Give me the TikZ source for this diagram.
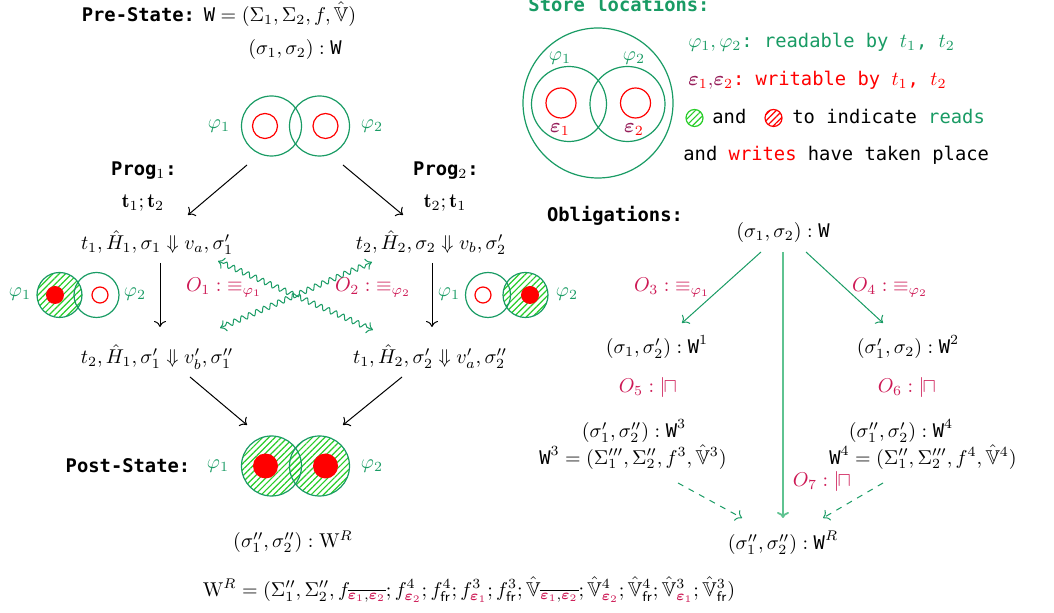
\documentclass[tikz,border=0pt]{standalone}
\usepackage{amsmath,amssymb}
\usepackage{fontspec}
\setmonofont{DejaVu Sans Mono}[Scale=0.94]
\usetikzlibrary{arrows.meta,decorations.pathmorphing,patterns.meta}
\definecolor{stgreen}{RGB}{25,155,100}
\definecolor{hatchgreen}{RGB}{40,205,40}
\definecolor{oblcol}{RGB}{205,25,85}
\definecolor{epscol}{RGB}{150,30,90}
\definecolor{vgreen}{RGB}{95,195,145}
\newcommand{\epsc}[1]{\textcolor{oblcol}{\boldsymbol{\varepsilon}_{#1}}}
\newcommand{\Vh}{\hat{\mathbb{V}}}
\newcommand{\tW}{\text{\ttfamily W}}
\newcommand{\sqop}{{|\mkern-1.5mu\sqcap}}
\newcommand{\epsl}[1]{\textcolor{epscol}{\boldsymbol{\varepsilon}}_{\textcolor{red}{#1}}}
\tikzset{
  txt/.style={inner sep=1pt},
  phi/.style={inner sep=1pt, text=stgreen},
  obl/.style={inner sep=1pt, text=oblcol},
  gc/.style={draw=stgreen, line width=0.6pt},
  rc/.style={draw=red, line width=0.6pt},
  rdot/.style={fill=red},
  hatch/.style={pattern={Lines[angle=45,distance=2.2pt,line width=0.6pt]}, pattern color=hatchgreen},
  arr/.style={-{To[length=3pt,width=6pt]}, line width=0.5pt},
  garr/.style={arr, draw=stgreen},
  dgarr/.style={garr, dash pattern=on 3pt off 3pt},
  vgarr/.style={-{To[length=3pt,width=6pt]}, draw=vgreen, line width=0.9pt},
  wavy/.style={{To[length=3pt,width=6pt]}-{To[length=3pt,width=6pt]}, draw=stgreen, line width=0.5pt,
    decorate, decoration={snake, amplitude=1.3pt, segment length=4pt, pre length=3pt, post length=3pt}},
}
\begin{document}
\begin{tikzpicture}[x=0.5pt,y=-0.5pt]
\useasboundingbox (0,0) rectangle (1054,613);

% ---------- left: pre-state ----------
\node[txt] (pre) at (219,14) {\texttt{\bfseries Pre-State:} $\tW = (\Sigma_1, \Sigma_2, f, \Vh)$};
\node[txt] (prew) at (295,50) {$(\sigma_1, \sigma_2) : \tW$};

\draw[gc] (271.5,126) circle[radius=15pt];
\draw[gc] (319.5,126) circle[radius=15pt];
\draw[rc] (265,126) circle[radius=6.25pt];
\draw[rc] (325.5,126) circle[radius=6.25pt];
\node[phi] (tp1) at (219,126) {$\varphi_1$};
\node[phi] (tp2) at (372,126) {$\varphi_2$};

\node[txt] (prog1) at (144,171) {\texttt{\bfseries Prog}$_1$\texttt{\bfseries :}};
\node[txt] (seq1) at (143,203) {$\mathbf{t}_1;\mathbf{t}_2$};
\node[txt] (prog2) at (446,171) {\texttt{\bfseries Prog}$_2$\texttt{\bfseries :}};
\node[txt] (seq2) at (445,203) {$\mathbf{t}_2;\mathbf{t}_1$};

\node[txt] (A) at (157,243) {$t_1, \hat{H}_1, \sigma_1 \Downarrow v_a, \sigma_1'$};
\node[txt] (B) at (431,243) {$t_2, \hat{H}_2, \sigma_2 \Downarrow v_b, \sigma_2'$};
\node[txt] (C) at (157,357) {$t_2, \hat{H}_1, \sigma_1' \Downarrow v_b', \sigma_1''$};
\node[txt] (D) at (430,357) {$t_1, \hat{H}_2, \sigma_2' \Downarrow v_a', \sigma_2''$};

\coordinate (vtl) at (247,165);
\coordinate (vtr) at (343,165);
\coordinate (aA) at (188,215);
\coordinate (aB) at (403,215);
\draw[arr] (vtl) -- (aA);
\draw[arr] (vtr) -- (aB);

\draw[arr] (160,263) coordinate (cA) -- (160,327) coordinate (cC);
\draw[arr] (432,263) coordinate (cB) -- (432,327) coordinate (cD);

% mid-left venn
\fill[hatch] (59.5,295) circle[radius=11.25pt];
\draw[gc] (59.5,295) circle[radius=11.25pt];
\draw[gc] (96.5,295) circle[radius=11.25pt];
\fill[rdot] (55,295) circle[radius=4.5pt];
\draw[rc] (100,295) circle[radius=4pt];
\node[phi] (ml1) at (20,294) {$\varphi_1$};
\node[phi] (ml2) at (135,294) {$\varphi_2$};

% mid-right venn
\fill[hatch] (525.5,295) circle[radius=11.25pt];
\draw[gc] (488,295) circle[radius=11.25pt];
\draw[gc] (525.5,295) circle[radius=11.25pt];
\draw[rc] (483,295) circle[radius=4pt];
\fill[rdot] (530,295) circle[radius=4.5pt];
\node[phi] (mr1) at (449,294) {$\varphi_1$};
\node[phi] (mr2) at (567,294) {$\varphi_2$};

% wavy obligations
\coordinate (w1a) at (218,261);
\coordinate (w1b) at (373,330);
\coordinate (w2a) at (220,328);
\coordinate (w2b) at (372,262);
\draw[wavy] (w1a) -- (w1b);
\draw[wavy] (w2a) -- (w2b);
\node[obl] (O1) at (224,288) {$O_1 : {\equiv_{\varphi_1}}$};
\node[obl] (O2) at (373,288) {$O_2 : {\equiv_{\varphi_2}}$};

\coordinate (pl) at (247,425);
\coordinate (pr) at (343,425);
\draw[arr] (190,377) coordinate (cCs) -- (pl);
\draw[arr] (402,377) coordinate (cDs) -- (pr);

% post state
\node[txt] (post) at (128,466) {\texttt{\bfseries Post-State:}};
\fill[hatch] (271.5,466) circle[radius=15pt];
\fill[hatch] (319.5,466) circle[radius=15pt];
\draw[gc] (271.5,466) circle[radius=15pt];
\draw[gc] (319.5,466) circle[radius=15pt];
\fill[rdot] (265.5,466) circle[radius=6.25pt];
\fill[rdot] (325.5,466) circle[radius=6.25pt];
\node[phi] (pp1) at (218,466) {$\varphi_1$};
\node[phi] (pp2) at (372,466) {$\varphi_2$};

\node[txt] (postw) at (293,542) {$(\sigma_1'', \sigma_2'') : \mathrm{W}^R$};

\node[txt] (WR) at (469,590) {$\mathrm{W}^R = (\Sigma_1'', \Sigma_2'', f_{\overline{\epsc{1},\epsc{2}}}; f^4_{\epsc{2}}; f^4_{\mathsf{fr}}; f^3_{\epsc{1}}; f^3_{\mathsf{fr}}; \Vh_{\overline{\epsc{1},\epsc{2}}}; \Vh^4_{\epsc{2}}; \Vh^4_{\mathsf{fr}}; \Vh^3_{\epsc{1}}; \Vh^3_{\mathsf{fr}})$};

% ---------- right: store locations ----------
\node[txt, text=stgreen] (store) at (619,4) {\texttt{\bfseries Store locations:}};
\draw[gc] (598,103) circle[radius=37.5pt];
\draw[gc] (569,104) circle[radius=18.75pt];
\draw[gc] (627.5,104) circle[radius=18.75pt];
\draw[rc] (561,103) circle[radius=7.5pt];
\draw[rc] (635.5,103) circle[radius=7.5pt];
\node[phi] (sp1) at (560,58) {$\varphi_1$};
\node[phi] (sp2) at (634,58) {$\varphi_2$};
\node[txt] (se1) at (560,130) {$\epsl{1}$};
\node[txt] (se2) at (634,130) {$\epsl{2}$};

\node[txt, anchor=base west, text=stgreen] (L1) at (686,48) {$\varphi_1,\varphi_2$\texttt{: readable by }$t_1$\texttt{, }$t_2$};
\node[txt, anchor=base west, text=red] (L2) at (686,86) {$\epsl{1}\textcolor{epscol}{,}\epsl{2}$\texttt{: writable by }$t_1$\texttt{, }$t_2$};
\fill[hatch] (694.5,118) circle[radius=4.25pt];
\draw[draw=hatchgreen, line width=0.6pt] (694.5,118) circle[radius=4.25pt];
\node[txt, anchor=base west] (L3a) at (710,124) {\texttt{and}};
\fill[pattern={Lines[angle=45,distance=2.2pt,line width=0.6pt]}, pattern color=red] (773.5,118) circle[radius=4.25pt];
\draw[rc] (773.5,118) circle[radius=4.25pt];
\node[txt, anchor=base west] (L3b) at (790,124) {\texttt{to indicate \textcolor{stgreen}{reads}}};
\node[txt, anchor=base west] (L4) at (681,161) {\texttt{and \textcolor{red}{writes} have taken place}};

% ---------- right: obligations ----------
\node[txt] (oblig) at (615,216) {\texttt{\bfseries Obligations:}};
\node[txt] (R0) at (783,233) {$(\sigma_1, \sigma_2) : \tW$};
\node[txt] (R1) at (657,347) {$(\sigma_1, \sigma_2') : \tW^1$};
\node[txt] (R2) at (908,347) {$(\sigma_1', \sigma_2) : \tW^2$};
\node[obl] (O3) at (672,288) {$O_3 : {\equiv_{\varphi_1}}$};
\node[obl] (O4) at (890,288) {$O_4 : {\equiv_{\varphi_2}}$};
\node[obl] (O5) at (648,388) {$O_5 : \sqop$};
\node[obl] (O6) at (907,388) {$O_6 : \sqop$};
\node[txt] (R3) at (634,431) {$(\sigma_1', \sigma_2'') : \tW^3$};
\node[txt] (R3b) at (633,457) {$\tW^3 = (\Sigma_1''', \Sigma_2'', f^3, \Vh^3)$};
\node[txt] (R4) at (901,431) {$(\sigma_1'', \sigma_2') : \tW^4$};
\node[txt] (R4b) at (923,457) {$\tW^4 = (\Sigma_1'', \Sigma_2''', f^4, \Vh^4)$};
\node[obl] (O7) at (822,482) {$O_7 : \sqop$};
\node[txt] (RR) at (783,543) {$(\sigma_1'', \sigma_2'') : \tW^R$};

\coordinate (r0l) at (761,252);
\coordinate (r0r) at (806,252);
\coordinate (r0m) at (783,252);
\coordinate (r1t) at (682,323);
\coordinate (r2t) at (883,323);
\coordinate (rrm) at (783,518);
\draw[garr] (r0l) -- (r1t);
\draw[garr] (r0r) -- (r2t);
\draw[vgarr] (r0m) -- (rrm);
\coordinate (r3s) at (678,483);
\coordinate (r4s) at (883,483);
\coordinate (rrl) at (742,518);
\coordinate (rrr) at (823,518);
\draw[dgarr] (r3s) -- (rrl);
\draw[dgarr] (r4s) -- (rrr);
\end{tikzpicture}
\end{document}
